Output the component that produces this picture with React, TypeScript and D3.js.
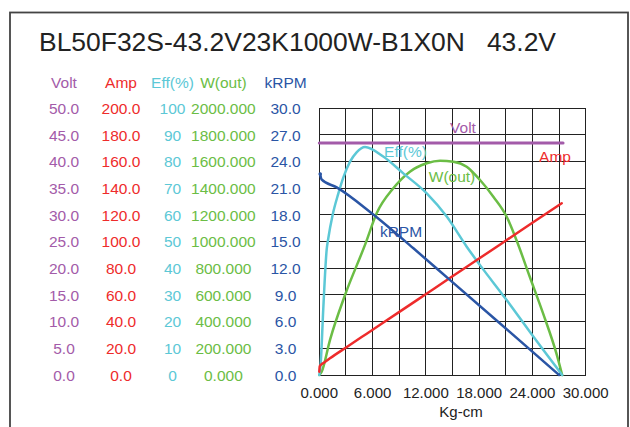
import React from "react";
import * as d3 from "d3";

const title = "BL50F32S-43.2V23K1000W-B1X0N   43.2V";

const xTicks = [0, 6, 12, 18, 24, 30];
const gridX = [0, 3, 6, 9, 12, 15, 18, 21, 24, 27, 30];
const voltTicks = [0, 5, 10, 15, 20, 25, 30, 35, 40, 45, 50];
const ampTicks = [0, 20, 40, 60, 80, 100, 120, 140, 160, 180, 200];
const effTicks = [0, 10, 20, 30, 40, 50, 60, 70, 80, 90, 100];
const wTicks = [0, 200, 400, 600, 800, 1000, 1200, 1400, 1600, 1800, 2000];
const krpmTicks = [0, 3, 6, 9, 12, 15, 18, 21, 24, 27, 30];

const voltTorque = [0, 27.45];
const voltValues = [43.5, 43.5];

const ampTorque = [0, 0.05, 0.16, 0.6, 1.2, 3.1, 5.3, 9.1, 11.9, 14.7, 17.7, 21.1, 24.0, 27.3];
const ampValues = [2.5, 6.5, 7.5, 9.5, 12.5, 21.0, 30.8, 47.7, 60.2, 72.7, 86.0, 101.2, 114.2, 128.8];

const effTorque = [0, 0.15, 0.45, 0.83, 1.0, 1.5, 2.14, 2.7, 3.46, 4.2, 5.15, 7.2, 9.46, 12.1, 14.35, 16.6, 18.1, 21.1, 24.1, 27.35];
const effValues = [0, 4, 25, 47, 51, 60, 68, 74, 80, 83.5, 85.5, 81.9, 75.6, 68.1, 59.4, 48.1, 41.2, 28.1, 14.4, 0];

const wTorque = [0, 0.27, 1.2, 2.9, 5.2, 6.46, 8.33, 10.2, 12.1, 13.6, 15.1, 16.6, 18.1, 19.6, 21.1, 22.2, 23.7, 25.2, 26.7, 27.35];
const wValues = [0, 25, 262, 600, 985, 1213, 1400, 1525, 1588, 1607, 1600, 1562, 1462, 1337, 1187, 1012, 737, 462, 162, 0];

const krpmTorque = [0.1, 0.25, 1.96, 5.9, 10.6, 14.7, 20.0, 27.0];
const krpmValues = [22.6, 22.0, 21.1, 18.2, 14.25, 10.7, 6.1, 0];

const COLORS = {
  volt: "#a35ba9",
  amp: "#ee2b2b",
  eff: "#5cc8d6",
  w: "#6bbd45",
  krpm: "#2a55a5",
  text: "#222222",
};

const L = 319.3, R = 585.7, T = 108.3, B = 375;

export default function App() {
  const x = d3.scaleLinear().domain([0, 30]).range([L, R]);
  const yVolt = d3.scaleLinear().domain([0, 50]).range([B, T]);
  const yAmp = d3.scaleLinear().domain([0, 200]).range([B, T]);
  const yEff = d3.scaleLinear().domain([0, 100]).range([B, T]);
  const yW = d3.scaleLinear().domain([0, 2000]).range([B, T]);
  const yK = d3.scaleLinear().domain([0, 30]).range([B, T]);

  const mk = (xs: number[], ys: number[], ys2: d3.ScaleLinear<number, number>, curve = d3.curveMonotoneX) =>
    d3
      .line<number>()
      .x((_, i) => x(xs[i]))
      .y((v) => ys2(v))
      .curve(curve)(ys) || "";

  const font = "'Liberation Sans', Arial, sans-serif";
  const fs = 15.5;
  const cols = [
    { cx: 64, head: "Volt", color: COLORS.volt, ticks: voltTicks, fmt: (v: number) => v.toFixed(1), scale: yVolt },
    { cx: 121, head: "Amp", color: COLORS.amp, ticks: ampTicks, fmt: (v: number) => v.toFixed(1), scale: yAmp },
    { cx: 172.5, head: "Eff(%)", color: COLORS.eff, ticks: effTicks, fmt: (v: number) => String(v), scale: yEff },
    { cx: 223.4, head: "W(out)", color: COLORS.w, ticks: wTicks, fmt: (v: number) => v.toFixed(3), scale: yW },
    { cx: 285.6, head: "kRPM", color: COLORS.krpm, ticks: krpmTicks, fmt: (v: number) => v.toFixed(1), scale: yK },
  ];

  return (
    <svg
      width={630}
      height={427}
      style={{ position: "absolute", left: 0, top: 0, background: "#fff" }}
      fontFamily={font}
    >
      <rect x={0} y={0} width={630} height={427} fill="#fff" />
      <rect x={10} y={12.5} width={618} height={440} fill="none" stroke="#444" strokeWidth={1.8} />
      <text x={39} y={51} fontSize={26} fill={COLORS.text} textLength={517} lengthAdjust="spacingAndGlyphs" style={{ whiteSpace: "pre" }}>
        {title}
      </text>

      {cols.map((c) => (
        <g key={c.head} fill={c.color} fontSize={fs} textAnchor="middle">
          <text x={c.cx} y={88}>{c.head}</text>
          {c.ticks.map((t) => (
            <text key={t} x={c.cx} y={c.scale(t) + 5.6}>{c.fmt(t)}</text>
          ))}
        </g>
      ))}

      <g stroke="#222" strokeWidth={1} shapeRendering="crispEdges">
        {gridX.map((g) => (
          <line key={"gx" + g} x1={x(g)} x2={x(g)} y1={T} y2={B} />
        ))}
        {krpmTicks.map((g) => (
          <line key={"gy" + g} x1={L} x2={R} y1={yK(g)} y2={yK(g)} />
        ))}
      </g>

      <g fill={COLORS.text} fontSize={15} textAnchor="middle">
        {xTicks.map((t) => (
          <text key={t} x={x(t)} y={398}>{t.toFixed(3)}</text>
        ))}
        <text x={461} y={417}>Kg-cm</text>
      </g>

      <g fill="none" strokeLinejoin="round" strokeLinecap="round">
        <path d={mk(voltTorque, voltValues, yVolt, d3.curveLinear)} stroke={COLORS.volt} strokeWidth={3} />
        <path d={mk(wTorque, wValues, yW)} stroke={COLORS.w} strokeWidth={2.5} />
        <path d={mk(effTorque, effValues, yEff)} stroke={COLORS.eff} strokeWidth={2.5} />
        <path d={mk(ampTorque, ampValues, yAmp)} stroke={COLORS.amp} strokeWidth={2.5} />
        <path d={mk(krpmTorque, krpmValues, yK)} stroke={COLORS.krpm} strokeWidth={2.5} />
      </g>
      <circle cx={x(krpmTorque[0])} cy={yK(krpmValues[0])} r={1.8} fill={COLORS.krpm} />

      <g fontSize={fs} textAnchor="middle">
        <text x={463} y={133} fill={COLORS.volt}>Volt</text>
        <text x={405.5} y={157.3} fill={COLORS.eff}>Eff(%)</text>
        <text x={452} y={181.6} fill={COLORS.w}>W(out)</text>
        <text x={555} y={162.3} fill={COLORS.amp}>Amp</text>
        <text x={401} y={237.3} fill={COLORS.krpm}>kRPM</text>
      </g>
    </svg>
  );
}
